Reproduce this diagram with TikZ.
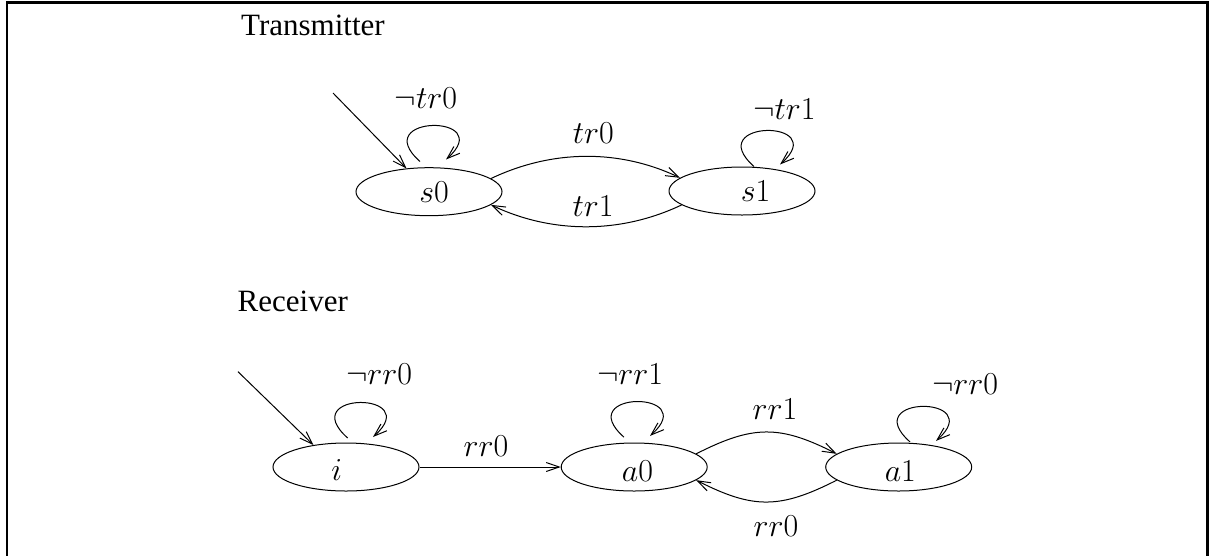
\RequirePackage{fix-cm}
\documentclass[tikz,border=0pt]{standalone}
\usepackage[no-math]{fontspec}
\setmainfont{Liberation Serif}
\usetikzlibrary{arrows.meta,shapes.geometric,calc}

\tikzset{
  state/.style={draw, line width=1pt, ellipse, minimum width=146pt, minimum height=48pt, inner sep=0pt},
  lab/.style={anchor=base, inner sep=0pt, font=\fontsize{32}{38}\selectfont},
  title/.style={anchor=base west, inner sep=0pt, font=\fontsize{31}{37}\selectfont},
  edge/.style={line width=1pt, -{Straight Barb[length=13pt,width=9pt,line width=1pt]}},
  frame/.style={line width=2.5pt}
}

\begin{document}
\begin{tikzpicture}[x=1pt, y=-1pt]
\useasboundingbox (0,0) rectangle (1209,555);

% open frame: left, top and right sides
\draw[frame] (7,560) -- (7,2.5) -- (1207.5,2.5) -- (1207.5,560);

% ---------- transmitter ----------
\node[title] (ttitle) at (241,35) {Transmitter};

\node[state] (s0) at (429,191.7) {};
\node[state] (s1) at (742,191) {};
\node[lab] (s0l) at (434,202.7) {$s0$};
\node[lab] (s1l) at (755.5,201.7) {$s1$};

\coordinate (tin) at (333,93);
\draw[edge] (tin) -- (s0.134);

\draw[edge] ($(s0.north)+(-9,-5.7)$) .. controls +(-53,-47) and +(52,-46) .. ($(s0.north)+(17,-7.7)$);
\node[lab] (ls0) at (426,108) {$\neg tr0$};

\draw[edge] ($(s1.north)+(12,0)$) .. controls +(-53,-47) and +(52,-46) .. ($(s1.north)+(38,-2)$);
\node[lab] (ls1) at (784.5,119.3) {$\neg tr1$};

\draw[edge] (s0.12) .. controls +(61,-29) and +(-61,-29) .. (s1.168);
\node[lab] (ltr0) at (593.3,143.3) {$tr0$};

\draw[edge] (s1.193) .. controls +(-61,29) and +(61,29) .. (s0.-12);
\node[lab] (ltr1) at (593,216.7) {$tr1$};

% ---------- receiver ----------
\node[title] (rtitle) at (237.5,311.7) {Receiver};

\node[state] (i) at (346,467) {};
\node[state] (a0) at (634.2,467) {};
\node[state] (a1) at (898.7,467) {};
\node[lab] (il) at (336.7,480) {$i$};
\node[lab] (a0l) at (637.5,481) {$a0$};
\node[lab] (a1l) at (900.3,481) {$a1$};

\coordinate (rin) at (238,371.7);
\draw[edge] (rin) -- (i.146);

\draw[edge] ($(i.north)+(1.7,-4.5)$) .. controls +(-53,-47) and +(52,-46) .. ($(i.north)+(27,-5.5)$);
\node[lab] (li) at (379,384.3) {$\neg rr0$};

\draw[edge] ($(a0.north)+(-10.2,-5.3)$) .. controls +(-53,-47) and +(52,-46) .. ($(a0.north)+(15.8,-6.6)$);
\node[lab] (la0) at (630,384.3) {$\neg rr1$};

\draw[edge] ($(a1.north)+(11.3,-0.6)$) .. controls +(-53,-47) and +(52,-46) .. ($(a1.north)+(37.3,-1.6)$);
\node[lab] (la1) at (965,394.3) {$\neg rr0$};

\draw[edge] (i.east) -- (a0.west);
\node[lab] (lia0) at (486,456) {$rr0$};

\draw[edge] (a0.12) .. controls +(57,-29) and +(-57,-29) .. (a1.168);
\node[lab] (lrr1) at (775,419.3) {$rr1$};

\draw[edge] (a1.192) .. controls +(-57,29) and +(57,29) .. (a0.-12);
\node[lab] (lrr0) at (776,536.7) {$rr0$};
\end{tikzpicture}
\end{document}
